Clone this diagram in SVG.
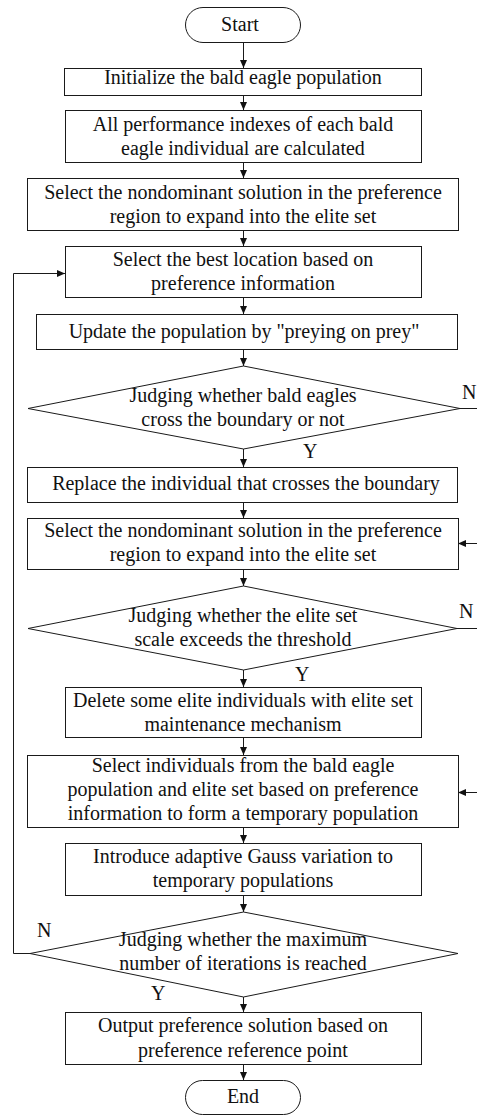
<svg xmlns="http://www.w3.org/2000/svg" width="477" height="1115" viewBox="0 0 477 1115">
<style>
.b{fill:#fff;stroke:#1a1a1a;stroke-width:1}
.t{font-family:"Liberation Serif","Times New Roman",serif;font-size:20px;fill:#111;text-anchor:middle}
.l{font-family:"Liberation Serif","Times New Roman",serif;font-size:20px;fill:#111}
.c{fill:none;stroke:#1a1a1a;stroke-width:1}
</style>
<defs>
<marker id="ah" markerUnits="userSpaceOnUse" markerWidth="8" markerHeight="8" refX="8" refY="4" orient="auto">
<path d="M0,0.5 L8,4 L0,7.5 z" fill="#111"/>
</marker>
</defs>
<rect width="477" height="1115" fill="#fff"/>
<g id="connectors">
<line class="c" x1="243.5" y1="43" x2="243.5" y2="68" marker-end="url(#ah)"/>
<line class="c" x1="243.5" y1="96" x2="243.5" y2="110" marker-end="url(#ah)"/>
<line class="c" x1="243.5" y1="163" x2="243.5" y2="178" marker-end="url(#ah)"/>
<line class="c" x1="243.5" y1="231" x2="243.5" y2="246" marker-end="url(#ah)"/>
<line class="c" x1="243.5" y1="298" x2="243.5" y2="314" marker-end="url(#ah)"/>
<line class="c" x1="243.5" y1="350" x2="243.5" y2="366" marker-end="url(#ah)"/>
<line class="c" x1="243.5" y1="449" x2="243.5" y2="467" marker-end="url(#ah)"/>
<line class="c" x1="243.5" y1="503" x2="243.5" y2="518" marker-end="url(#ah)"/>
<line class="c" x1="243.5" y1="570" x2="243.5" y2="586" marker-end="url(#ah)"/>
<line class="c" x1="243.5" y1="670" x2="243.5" y2="687" marker-end="url(#ah)"/>
<line class="c" x1="243.5" y1="738" x2="243.5" y2="755" marker-end="url(#ah)"/>
<line class="c" x1="243.5" y1="828" x2="243.5" y2="843" marker-end="url(#ah)"/>
<line class="c" x1="243.5" y1="896" x2="243.5" y2="912" marker-end="url(#ah)"/>
<line class="c" x1="243.5" y1="997" x2="243.5" y2="1012" marker-end="url(#ah)"/>
<line class="c" x1="243.5" y1="1065" x2="243.5" y2="1080" marker-end="url(#ah)"/>
<polyline class="c" points="30,953.5 13.5,953.5 13.5,273.5 65,273.5" marker-end="url(#ah)"/>
<line class="c" x1="460" y1="408.5" x2="477" y2="408.5"/>
<line class="c" x1="457" y1="628.5" x2="477" y2="628.5"/>
<line class="c" x1="477" y1="543.5" x2="458" y2="543.5" marker-end="url(#ah)"/>
<line class="c" x1="477" y1="792.5" x2="458" y2="792.5" marker-end="url(#ah)"/>
<text class="l" x="462" y="399">N</text>
<text class="l" x="303" y="458">Y</text>
<text class="l" x="459" y="618">N</text>
<text class="l" x="295" y="681">Y</text>
<text class="l" x="37" y="937">N</text>
<text class="l" x="151" y="1000">Y</text>
</g>
<g id="start">
<rect class="b" x="185.5" y="7.5" width="115" height="35" rx="17.5"/>
<text class="t" x="240" y="31">Start</text>
</g>
<g id="init">
<rect class="b" x="64.5" y="68.5" width="357" height="27"/>
<text class="t" x="243" y="84">Initialize the bald eagle population</text>
</g>
<g id="calc">
<rect class="b" x="65.5" y="110.5" width="356" height="52"/>
<text class="t" x="243" y="131">All performance indexes of each bald</text>
<text class="t" x="243" y="155">eagle individual are calculated</text>
</g>
<g id="elite1">
<rect class="b" x="27.5" y="178.5" width="431" height="52"/>
<text class="t" x="243" y="199">Select the nondominant solution in the preference</text>
<text class="t" x="243" y="223">region to expand into the elite set</text>
</g>
<g id="best">
<rect class="b" x="65.5" y="246.5" width="356" height="51"/>
<text class="t" x="243" y="266">Select the best location based on</text>
<text class="t" x="243" y="290">preference information</text>
</g>
<g id="update">
<rect class="b" x="36.5" y="314.5" width="421" height="35"/>
<text class="t" x="244" y="338">Update the population by "preying on prey"</text>
</g>
<g id="judge1">
<polygon class="b" points="243.5,366 460,408.5 243.5,449 28,408.5"/>
<text class="t" x="243" y="402">Judging whether bald eagles</text>
<text class="t" x="243" y="426">cross the boundary or not</text>
</g>
<g id="replace">
<rect class="b" x="27.5" y="467.5" width="430" height="35"/>
<text class="t" x="246" y="490">Replace the individual that crosses the boundary</text>
</g>
<g id="elite2">
<rect class="b" x="27.5" y="518.5" width="431" height="51"/>
<text class="t" x="243" y="537">Select the nondominant solution in the preference</text>
<text class="t" x="243" y="561">region to expand into the elite set</text>
</g>
<g id="judge2">
<polygon class="b" points="243.5,586 457,628.5 243.5,670 28,628.5"/>
<text class="t" x="243" y="622">Judging whether the elite set</text>
<text class="t" x="243" y="646">scale exceeds the threshold</text>
</g>
<g id="delete">
<rect class="b" x="65.5" y="687.5" width="356" height="50"/>
<text class="t" x="243" y="707">Delete some elite individuals with elite set</text>
<text class="t" x="243" y="731">maintenance mechanism</text>
</g>
<g id="selecttemp">
<rect class="b" x="27.5" y="755.5" width="431" height="72"/>
<text class="t" x="243" y="772">Select individuals from the bald eagle</text>
<text class="t" x="243" y="796">population and elite set based on preference</text>
<text class="t" x="243" y="820">information to form a temporary population</text>
</g>
<g id="gauss">
<rect class="b" x="65.5" y="843.5" width="356" height="52"/>
<text class="t" x="243" y="863">Introduce adaptive Gauss variation to</text>
<text class="t" x="243" y="887">temporary populations</text>
</g>
<g id="judge3">
<polygon class="b" points="243.5,912 458,953.5 243.5,997 30,953.5"/>
<text class="t" x="243" y="946">Judging whether the maximum</text>
<text class="t" x="243" y="970">number of iterations is reached</text>
</g>
<g id="output">
<rect class="b" x="65.5" y="1012.5" width="356" height="52"/>
<text class="t" x="243" y="1032">Output preference solution based on</text>
<text class="t" x="243" y="1057">preference reference point</text>
</g>
<g id="end">
<rect class="b" x="185.5" y="1080.5" width="115" height="34" rx="17"/>
<text class="t" x="243" y="1103">End</text>
</g>
</svg>
